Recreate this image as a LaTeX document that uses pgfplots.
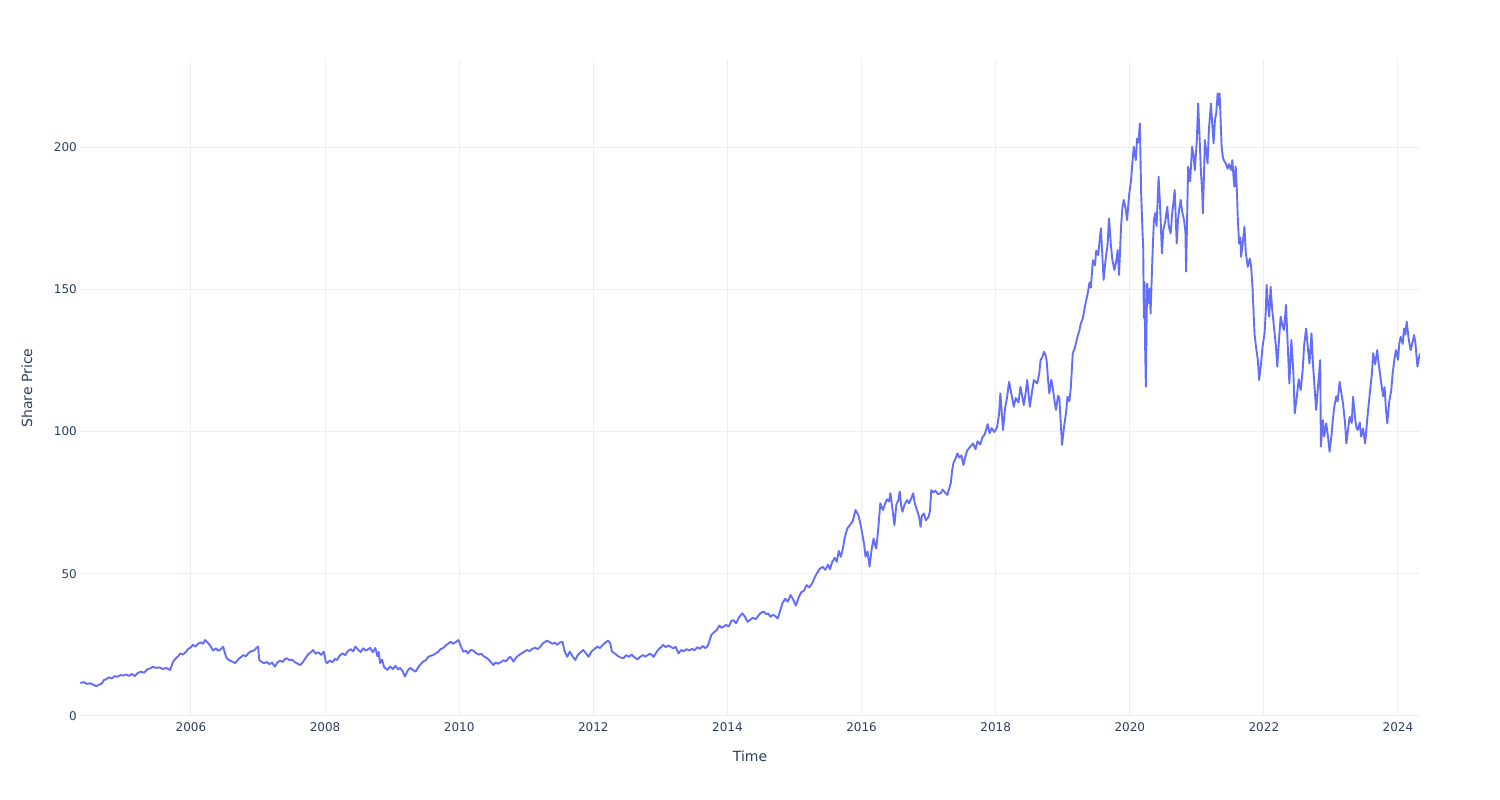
\documentclass[border=0pt]{standalone}
\usepackage{pgfplots}
\pgfplotsset{compat=1.18}
\usepackage{pgfplotstable}
\usepackage{fontspec}
\setmainfont{DejaVu Sans}
\definecolor{txt}{HTML}{2A3F5F}
\definecolor{gridc}{HTML}{EBF0F8}
\definecolor{line}{HTML}{636EFA}
\pgfplotstableread{
t v
2004.35 11.6
2004.40 11.9
2004.45 11.3
2004.50 11.5
2004.55 10.9
2004.59 10.5
2004.63 11.0
2004.67 11.4
2004.70 12.6
2004.74 13.0
2004.78 13.6
2004.82 13.2
2004.86 14.0
2004.90 13.8
2004.95 14.4
2004.99 14.2
2005.03 14.6
2005.08 14.1
2005.12 14.8
2005.16 14.0
2005.20 15.0
2005.25 15.6
2005.30 15.2
2005.35 16.4
2005.40 16.8
2005.43 17.3
2005.48 16.9
2005.53 17.1
2005.58 16.5
2005.63 16.9
2005.69 16.2
2005.73 19.0
2005.78 20.4
2005.81 21.0
2005.84 22.0
2005.88 21.6
2005.92 22.4
2005.96 23.6
2006.00 24.2
2006.03 25.0
2006.07 24.4
2006.10 25.3
2006.14 25.9
2006.18 25.4
2006.21 26.7
2006.25 25.8
2006.29 24.6
2006.33 23.0
2006.37 23.8
2006.41 22.9
2006.45 23.6
2006.48 24.4
2006.51 21.8
2006.53 20.4
2006.57 19.6
2006.61 19.2
2006.66 18.6
2006.70 19.8
2006.74 20.6
2006.78 21.4
2006.82 21.0
2006.86 22.2
2006.90 22.8
2006.94 23.0
2006.97 23.8
2007.00 24.4
2007.02 19.6
2007.05 19.1
2007.09 18.5
2007.13 19.0
2007.17 18.2
2007.21 18.8
2007.25 17.3
2007.29 18.9
2007.33 19.4
2007.37 19.0
2007.40 20.0
2007.43 20.3
2007.47 19.6
2007.51 19.8
2007.55 18.9
2007.59 18.4
2007.63 17.9
2007.67 19.0
2007.71 20.4
2007.75 21.8
2007.79 22.4
2007.82 23.2
2007.86 21.9
2007.90 22.4
2007.94 21.5
2007.98 22.6
2008.01 19.2
2008.03 18.6
2008.07 19.5
2008.11 18.9
2008.15 20.1
2008.18 19.7
2008.22 21.3
2008.26 22.0
2008.30 21.4
2008.34 22.8
2008.38 23.5
2008.42 22.7
2008.45 24.4
2008.49 23.4
2008.53 22.5
2008.57 23.8
2008.60 23.0
2008.63 23.2
2008.67 24.0
2008.71 22.4
2008.75 23.9
2008.78 21.0
2008.80 22.5
2008.82 18.6
2008.85 19.8
2008.88 17.2
2008.91 16.6
2008.93 16.2
2008.97 17.4
2009.01 16.5
2009.05 17.6
2009.09 16.4
2009.12 16.9
2009.16 15.6
2009.19 13.8
2009.23 15.9
2009.27 16.9
2009.31 16.2
2009.35 15.6
2009.37 16.4
2009.41 17.8
2009.46 19.1
2009.50 19.6
2009.54 20.8
2009.58 21.2
2009.61 21.4
2009.65 22.0
2009.69 22.6
2009.72 23.5
2009.76 23.9
2009.80 24.8
2009.84 25.5
2009.87 26.1
2009.91 25.4
2009.95 26.0
2009.99 26.7
2010.02 24.8
2010.06 22.6
2010.10 22.9
2010.13 22.0
2010.17 23.2
2010.21 23.0
2010.25 22.1
2010.29 21.6
2010.33 21.9
2010.37 20.9
2010.41 20.4
2010.45 19.6
2010.48 18.7
2010.51 17.9
2010.54 18.8
2010.58 18.4
2010.62 18.9
2010.66 19.6
2010.70 19.2
2010.73 20.2
2010.76 20.8
2010.79 19.9
2010.81 19.1
2010.85 20.6
2010.89 21.4
2010.93 22.0
2010.97 22.6
2011.01 23.2
2011.05 22.8
2011.09 23.6
2011.13 24.0
2011.17 23.5
2011.21 24.4
2011.25 25.6
2011.28 26.0
2011.31 26.5
2011.35 26.0
2011.39 25.4
2011.43 25.8
2011.46 25.0
2011.50 25.8
2011.54 26.1
2011.57 23.0
2011.61 20.8
2011.65 22.6
2011.69 21.0
2011.73 19.7
2011.77 21.5
2011.81 22.4
2011.85 23.2
2011.89 22.0
2011.93 20.8
2011.97 22.6
2012.01 23.4
2012.06 24.4
2012.10 23.9
2012.14 25.0
2012.18 25.8
2012.22 26.5
2012.25 25.6
2012.28 22.6
2012.32 22.0
2012.36 21.2
2012.40 20.6
2012.45 20.3
2012.49 21.4
2012.53 20.8
2012.57 21.6
2012.61 20.7
2012.66 19.9
2012.70 20.8
2012.74 21.4
2012.78 20.9
2012.81 21.4
2012.85 21.9
2012.90 20.8
2012.94 22.4
2012.98 23.6
2013.02 24.4
2013.04 25.0
2013.08 24.2
2013.12 24.8
2013.15 24.4
2013.19 23.8
2013.23 24.3
2013.27 22.0
2013.31 23.2
2013.35 22.8
2013.39 23.5
2013.43 23.0
2013.47 23.6
2013.51 23.1
2013.55 24.2
2013.59 23.6
2013.63 24.6
2013.67 23.9
2013.70 24.4
2013.73 26.2
2013.76 28.5
2013.80 29.4
2013.84 30.2
2013.88 31.8
2013.91 31.0
2013.94 31.4
2013.98 32.0
2014.02 31.5
2014.06 33.4
2014.09 33.7
2014.13 32.6
2014.17 34.6
2014.22 36.1
2014.26 35.0
2014.30 33.1
2014.34 33.8
2014.38 34.6
2014.42 34.0
2014.46 35.2
2014.49 36.1
2014.54 36.7
2014.58 35.8
2014.61 36.0
2014.64 34.9
2014.68 35.6
2014.72 35.0
2014.75 34.3
2014.78 36.5
2014.82 39.6
2014.86 41.2
2014.90 40.2
2014.94 42.5
2014.98 41.0
2015.02 38.8
2015.06 41.5
2015.10 43.5
2015.14 44.0
2015.18 46.0
2015.22 45.2
2015.26 46.5
2015.30 48.6
2015.34 50.4
2015.38 51.8
2015.42 52.4
2015.46 51.4
2015.50 53.2
2015.53 51.6
2015.56 54.0
2015.60 55.6
2015.63 54.2
2015.66 58.0
2015.69 56.0
2015.72 58.6
2015.75 62.8
2015.79 66.0
2015.83 67.2
2015.87 68.6
2015.91 72.4
2015.94 71.2
2015.96 70.0
2015.99 66.8
2016.01 64.2
2016.04 60.0
2016.06 56.0
2016.09 57.8
2016.12 52.5
2016.15 58.6
2016.18 62.4
2016.20 60.2
2016.22 58.9
2016.25 66.0
2016.28 74.8
2016.30 73.4
2016.32 72.4
2016.35 74.6
2016.38 76.2
2016.41 75.4
2016.43 78.3
2016.46 73.0
2016.49 67.1
2016.52 74.4
2016.55 76.0
2016.57 78.9
2016.59 74.0
2016.61 71.8
2016.64 74.2
2016.68 75.9
2016.71 74.8
2016.74 76.4
2016.77 78.3
2016.79 75.2
2016.81 73.6
2016.84 71.4
2016.86 69.8
2016.88 66.5
2016.90 70.4
2016.93 71.2
2016.96 68.8
2017.00 70.0
2017.02 72.0
2017.04 79.4
2017.07 78.6
2017.10 79.2
2017.14 78.0
2017.18 78.3
2017.21 79.6
2017.25 78.4
2017.28 77.7
2017.31 80.2
2017.33 81.8
2017.35 86.0
2017.37 88.9
2017.40 90.4
2017.43 92.3
2017.46 90.8
2017.49 91.6
2017.52 88.2
2017.55 91.4
2017.58 93.5
2017.62 94.6
2017.66 95.8
2017.70 93.8
2017.73 96.6
2017.77 95.4
2017.80 97.8
2017.84 99.2
2017.88 102.6
2017.91 99.4
2017.94 101.2
2017.98 99.8
2018.02 101.4
2018.05 106.0
2018.07 113.4
2018.11 100.5
2018.14 108.2
2018.17 112.0
2018.20 117.5
2018.24 112.6
2018.27 108.7
2018.30 111.8
2018.34 110.2
2018.37 115.7
2018.42 109.3
2018.45 114.0
2018.47 118.1
2018.51 108.7
2018.54 113.6
2018.57 118.1
2018.62 116.9
2018.65 120.4
2018.67 125.1
2018.70 126.4
2018.72 128.0
2018.74 127.2
2018.76 125.1
2018.78 118.6
2018.80 113.4
2018.83 118.2
2018.85 115.7
2018.88 110.4
2018.90 107.6
2018.93 112.6
2018.95 111.7
2018.97 103.2
2018.99 95.3
2019.02 101.7
2019.05 106.6
2019.07 112.2
2019.10 110.6
2019.12 115.2
2019.15 127.5
2019.18 129.4
2019.22 133.3
2019.25 135.6
2019.27 138.0
2019.30 139.8
2019.34 145.0
2019.37 148.2
2019.40 152.4
2019.42 150.6
2019.45 160.2
2019.48 158.4
2019.50 163.6
2019.53 162.0
2019.55 167.0
2019.57 171.4
2019.59 162.2
2019.61 153.3
2019.64 160.6
2019.67 165.8
2019.69 174.9
2019.72 165.2
2019.74 160.4
2019.77 156.8
2019.80 160.2
2019.82 163.8
2019.84 155.0
2019.87 172.0
2019.89 178.6
2019.91 181.4
2019.94 178.2
2019.96 174.3
2019.99 183.1
2020.02 188.6
2020.04 194.8
2020.06 200.1
2020.09 195.4
2020.11 203.0
2020.13 201.6
2020.15 208.3
2020.17 183.7
2020.19 170.2
2020.20 165.0
2020.21 140.0
2020.22 152.6
2020.23 128.4
2020.24 115.7
2020.25 138.0
2020.26 152.0
2020.28 145.0
2020.30 150.2
2020.31 141.5
2020.34 162.6
2020.36 174.3
2020.38 176.8
2020.40 172.2
2020.43 189.6
2020.45 180.4
2020.48 162.6
2020.50 170.8
2020.53 174.0
2020.56 179.0
2020.58 172.4
2020.61 169.6
2020.63 176.2
2020.65 180.2
2020.67 184.9
2020.70 166.1
2020.72 174.8
2020.74 178.6
2020.76 181.4
2020.78 177.4
2020.81 174.3
2020.83 170.2
2020.84 156.2
2020.87 193.1
2020.90 188.0
2020.93 200.1
2020.95 197.2
2020.97 191.9
2021.00 202.4
2021.02 215.3
2021.04 204.0
2021.06 191.9
2021.08 184.2
2021.09 176.7
2021.11 193.0
2021.12 202.5
2021.14 198.6
2021.16 194.3
2021.18 206.0
2021.21 215.3
2021.23 208.0
2021.25 201.3
2021.27 209.4
2021.29 212.0
2021.31 218.8
2021.33 214.6
2021.34 218.8
2021.37 200.1
2021.39 196.2
2021.41 195.0
2021.43 194.3
2021.46 192.4
2021.48 194.0
2021.51 191.9
2021.53 195.4
2021.55 188.6
2021.56 186.1
2021.58 193.1
2021.60 183.4
2021.61 175.5
2021.63 166.1
2021.65 168.2
2021.66 161.4
2021.68 165.2
2021.71 172.0
2021.73 163.0
2021.76 157.9
2021.79 160.8
2021.81 158.0
2021.83 150.9
2021.86 134.5
2021.88 130.2
2021.91 125.1
2021.93 118.1
2021.96 124.6
2021.98 129.8
2022.01 134.5
2022.03 143.0
2022.04 151.5
2022.06 145.2
2022.08 140.4
2022.10 150.9
2022.12 144.0
2022.15 136.8
2022.18 130.0
2022.20 122.8
2022.23 133.8
2022.25 140.4
2022.28 137.0
2022.30 135.7
2022.33 144.5
2022.36 128.0
2022.38 116.9
2022.41 132.2
2022.44 120.6
2022.46 106.4
2022.49 112.0
2022.52 118.4
2022.55 114.6
2022.58 122.0
2022.60 130.2
2022.63 136.2
2022.66 128.4
2022.68 123.9
2022.71 134.5
2022.73 124.4
2022.76 114.2
2022.78 107.6
2022.81 116.6
2022.84 125.1
2022.85 94.7
2022.88 104.0
2022.90 98.2
2022.93 102.9
2022.96 97.4
2022.98 92.9
2023.01 99.0
2023.03 104.6
2023.05 108.7
2023.08 112.4
2023.10 110.6
2023.13 117.5
2023.15 114.2
2023.18 109.9
2023.21 103.0
2023.23 95.8
2023.26 101.6
2023.28 105.2
2023.31 103.0
2023.33 112.2
2023.36 104.8
2023.38 101.4
2023.40 100.5
2023.43 103.2
2023.45 98.2
2023.48 101.0
2023.51 95.8
2023.54 104.0
2023.56 108.8
2023.58 113.4
2023.61 120.2
2023.63 127.5
2023.66 123.6
2023.69 128.6
2023.71 124.2
2023.73 120.8
2023.75 116.9
2023.78 112.4
2023.80 115.6
2023.82 108.0
2023.84 102.9
2023.87 110.6
2023.90 114.6
2023.92 120.4
2023.95 126.0
2023.97 128.6
2024.00 125.2
2024.02 131.0
2024.04 133.3
2024.07 130.8
2024.09 136.2
2024.11 134.0
2024.13 138.6
2024.16 132.4
2024.19 128.6
2024.22 131.8
2024.24 133.9
2024.26 131.0
2024.29 122.8
2024.31 125.6
2024.33 127.5
}\datatable
\begin{document}
\begin{tikzpicture}
\path[use as bounding box] (0pt,0pt) rectangle (1500pt,800pt);
\begin{axis}[
  at={(80pt,84pt)}, anchor=south west,
  scale only axis, width=1340pt, height=656pt,
  xmin=2004.345, xmax=2024.328,
  ymin=0, ymax=230.6,
  xtick={2006,2008,...,2024},
  ytick={0,50,100,150,200},
  extra y ticks={0}, extra y tick labels={},
  extra y tick style={grid style={color=gridc, line width=2pt}},
  grid=major,
  major grid style={color=gridc, line width=1pt},
  axis line style={draw=none},
  major tick length=0pt,
  /pgf/number format/1000 sep={},
  /pgf/number format/assume math mode=true,
  tick label style={font=\fontsize{12}{14}\selectfont, text=txt},
  xticklabel style={inner sep=0pt, yshift=-6pt},
  yticklabel style={inner sep=0pt, xshift=-3pt},
  xlabel={Time}, ylabel={Share Price},
  label style={font=\fontsize{14}{16}\selectfont, text=txt},
  xlabel style={at={(axis description cs:0.5,0)}, anchor=center, yshift=-40pt},
  ylabel style={at={([xshift=-53pt]axis description cs:0,0.5)}, anchor=center},
]
\addplot[color=line, line width=1.9pt, line join=round] table[x=t, y=v] {\datatable};
\end{axis}
\end{tikzpicture}
\end{document}
